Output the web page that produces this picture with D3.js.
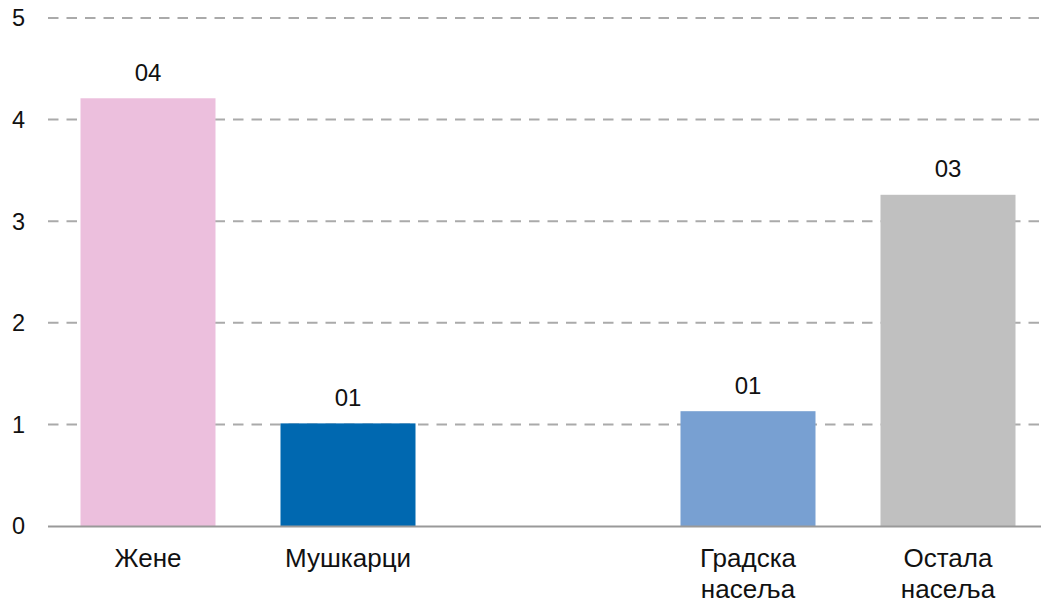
<!DOCTYPE html>
<html><head><meta charset="utf-8">
<script src="https://cdn.jsdelivr.net/npm/d3@7"></script>
<style>body{margin:0;background:#fff}</style>
</head><body>
<svg id="c" width="1041" height="602"></svg>
<script>
const categories = ["Жене", "Мушкарци", "", "Градска насеља", "Остала насеља"];
const values = [4.21, 1.01, null, 1.13, 3.26];
const valueLabels = ["04", "01", "", "01", "03"];
const colors = ["#ecbfdd", "#0068b0", "none", "#78a0d2", "#c0c0c0"];
const yTicks = [0, 1, 2, 3, 4, 5];

const svg = d3.select("#c");
const font = "'Liberation Sans', Arial, sans-serif";
const x = d3.scaleBand().domain(d3.range(categories.length)).range([48, 1048]).paddingInner(0.325).paddingOuter(0.1625);
const y = d3.scaleLinear().domain([0, 5]).range([526, 18]);

// gridlines
svg.append("g").selectAll("line").data(yTicks.filter(d => d > 0)).join("line")
  .attr("x1", 48).attr("x2", 1041)
  .attr("y1", d => y(d)).attr("y2", d => y(d))
  .attr("stroke", "#aaaaaa").attr("stroke-width", 2).attr("stroke-dasharray", "10.5,8");

// y tick labels
svg.append("g").selectAll("text").data(yTicks).join("text")
  .attr("x", 18.5).attr("y", d => y(d)).attr("dy", "0.36em")
  .attr("text-anchor", "middle").attr("font-family", font).attr("font-size", 23.5).attr("fill", "#111")
  .text(d => d);

const data = categories.map((c, i) => ({i, c, v: values[i], l: valueLabels[i], col: colors[i]})).filter(d => d.v != null);

svg.append("g").selectAll("rect").data(data).join("rect")
  .attr("x", d => x(d.i)).attr("width", x.bandwidth())
  .attr("y", d => y(d.v)).attr("height", d => y(0) - y(d.v))
  .attr("fill", d => d.col);

// baseline
svg.append("line").attr("x1", 48).attr("x2", 1041).attr("y1", y(0)+0.5).attr("y2", y(0)+0.5)
  .attr("stroke", "#999").attr("stroke-width", 2);

// value labels
svg.append("g").selectAll("text").data(data).join("text")
  .attr("x", d => x(d.i) + x.bandwidth()/2).attr("y", d => y(d.v) - 17.5)
  .attr("text-anchor", "middle").attr("font-family", font).attr("font-size", 24).attr("fill", "#111")
  .text(d => d.l);

// category labels
const cat = svg.append("g").selectAll("text").data(data).join("text")
  .attr("x", d => x(d.i) + x.bandwidth()/2).attr("y", 567)
  .attr("text-anchor", "middle").attr("font-family", font).attr("font-size", 26).attr("fill", "#111");
cat.each(function(d) {
  const words = d.c.split(" ");
  d3.select(this).selectAll("tspan").data(words).join("tspan")
    .attr("x", x(d.i) + x.bandwidth()/2).attr("dy", (w, k) => k === 0 ? 0 : 31).text(w => w);
});
</script>
</body></html>
